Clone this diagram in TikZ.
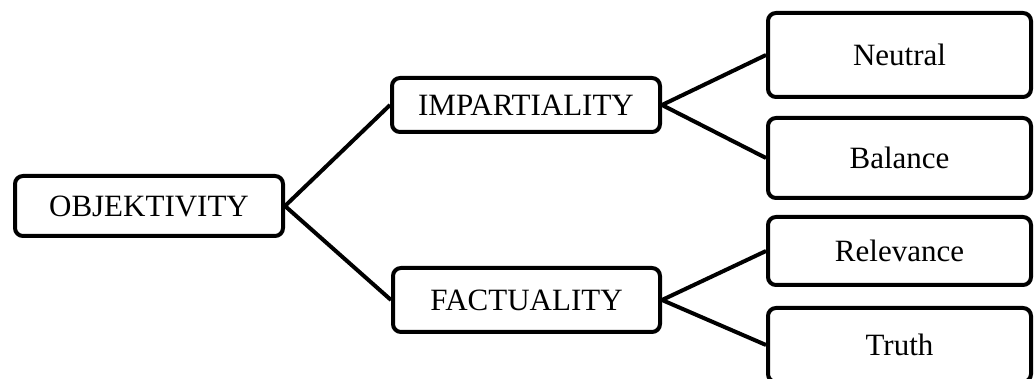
\documentclass[tikz,border=0pt]{standalone}
\usepackage{fontspec}
\setmainfont{Liberation Serif}
\begin{document}
\begin{tikzpicture}[x=1pt,y=-1pt,
  box/.style={draw=black,line width=4pt,rounded corners=8pt,fill=white,inner sep=0pt,
    font=\fontsize{31}{37}\selectfont,text=black},
  link/.style={line width=4pt,draw=black}]
\useasboundingbox (0,0) rectangle (1034,379);
\node[box,minimum width=268pt,minimum height=60pt] (obj) at (149,206) {OBJEKTIVITY};
\node[box,minimum width=268pt,minimum height=54pt] (imp) at (526,105) {IMPARTIALITY};
\node[box,minimum width=267pt,minimum height=64pt] (fac) at (526.5,300) {FACTUALITY};
\node[box,minimum width=263pt,minimum height=84pt] (neu) at (899.5,55) {Neutral};
\node[box,minimum width=263pt,minimum height=80pt] (bal) at (899.5,158) {Balance};
\node[box,minimum width=263pt,minimum height=68pt] (rel) at (899.5,251) {Relevance};
\node[box,minimum width=263pt,minimum height=74pt] (tru) at (899.5,345) {Truth};
\draw[link] (obj.east) -- (imp.west);
\draw[link] (obj.east) -- (fac.west);
\draw[link] (imp.east) -- (neu.west);
\draw[link] (imp.east) -- (bal.west);
\draw[link] (fac.east) -- (rel.west);
\draw[link] (fac.east) -- (tru.west);
\end{tikzpicture}
\end{document}
